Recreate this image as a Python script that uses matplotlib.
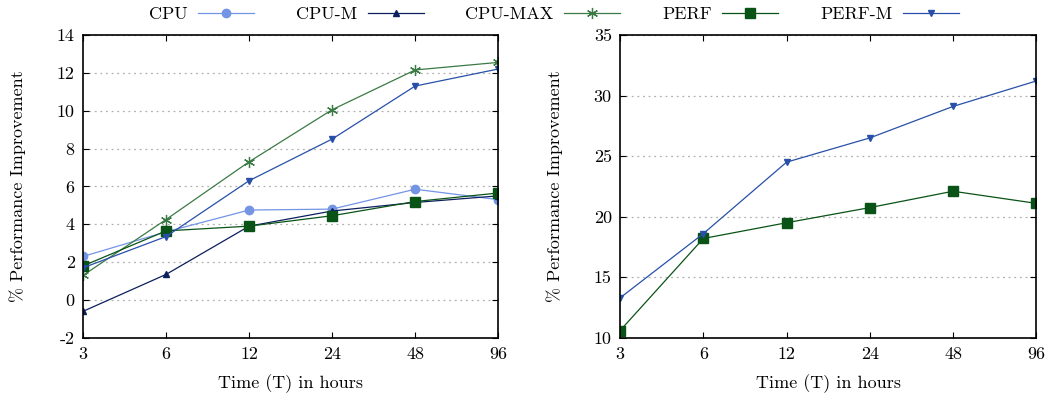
import matplotlib
matplotlib.use('Agg')
import matplotlib.pyplot as plt

# ==========================================
# data
# ==========================================
hours = [3, 6, 12, 24, 48, 96]
hour_labels = ['3', '6', '12', '24', '48', '96']

cpu = [2.3, 3.6, 4.75, 4.8, 5.85, 5.3]
cpu_m = [-0.6, 1.35, 3.9, 4.7, 5.15, 5.5]
cpu_max = [1.3, 4.25, 7.3, 10.05, 12.15, 12.55]
perf = [1.8, 3.65, 3.9, 4.45, 5.2, 5.65]
perf_m = [1.7, 3.35, 6.3, 8.5, 11.3, 12.2]

perf_r = [10.6, 18.2, 19.5, 20.75, 22.1, 21.1]
perf_m_r = [13.3, 18.6, 24.5, 26.5, 29.1, 31.2]

left_yticks = [-2, 0, 2, 4, 6, 8, 10, 12, 14]
right_yticks = [10, 15, 20, 25, 30, 35]

plt.rcParams['font.family'] = ['cmr10', 'DejaVu Serif']
plt.rcParams['axes.unicode_minus'] = False
plt.rcParams['mathtext.fontset'] = 'cm'

c_cpu = '#7494e4'
c_cpum = '#0c1f5e'
c_cpumax = '#3b7a45'
c_perf = '#0a5317'
c_perfm = '#2850a8'
star = (6, 2, 0)

fig = plt.figure(figsize=(10.51, 3.97), dpi=100)
ax1 = fig.add_axes([0.079, 0.149, 0.395, 0.763])
ax2 = fig.add_axes([0.590, 0.149, 0.396, 0.763])

lw = 0.9
ax1.plot(hours, cpu, color=c_cpu, marker='o', ms=6, lw=lw, label='CPU')
ax1.plot(hours, cpu_m, color=c_cpum, marker='^', ms=5, lw=lw, label='CPU-M')
ax1.plot(hours, cpu_max, color=c_cpumax, marker=star, ms=8, lw=lw, mew=0.9, label='CPU-MAX')
ax1.plot(hours, perf, color=c_perf, marker='s', ms=7, lw=lw, label='PERF')
ax1.plot(hours, perf_m, color=c_perfm, marker='v', ms=5, lw=lw, label='PERF-M')

ax2.plot(hours, perf_r, color=c_perf, marker='s', ms=7, lw=lw)
ax2.plot(hours, perf_m_r, color=c_perfm, marker='v', ms=5, lw=lw)

for ax, yt in [(ax1, left_yticks), (ax2, right_yticks)]:
    ax.set_xscale('log', base=2)
    ax.set_xlim(3, 96)
    ax.set_xticks(hours)
    ax.set_xticklabels(hour_labels)
    ax.minorticks_off()
    ax.set_ylim(yt[0], yt[-1])
    ax.set_yticks(yt)
    ax.set_yticklabels([str(v) for v in yt])
    ax.tick_params(direction='in', top=True, right=True, labelsize=13, length=4, pad=6)
    ax.yaxis.grid(True, linestyle=(0, (1.5, 3)), color='#b0b0b0', lw=0.9)
    ax.set_axisbelow(True)
    for s in ax.spines.values():
        s.set_linewidth(1.2)
    ax.set_xlabel('Time (T) in hours', fontsize=13, labelpad=9)
    ax.set_ylabel('% Performance Improvement', fontsize=13, labelpad=22)

handles, labels = ax1.get_legend_handles_labels()
fig.legend(handles, labels, loc='upper center', bbox_to_anchor=(0.527, 1.025), ncol=5,
           frameon=False, markerfirst=False, fontsize=13, handlelength=3.1,
           columnspacing=2.3, handletextpad=0.6)

fig.savefig('out.png', dpi=100)
